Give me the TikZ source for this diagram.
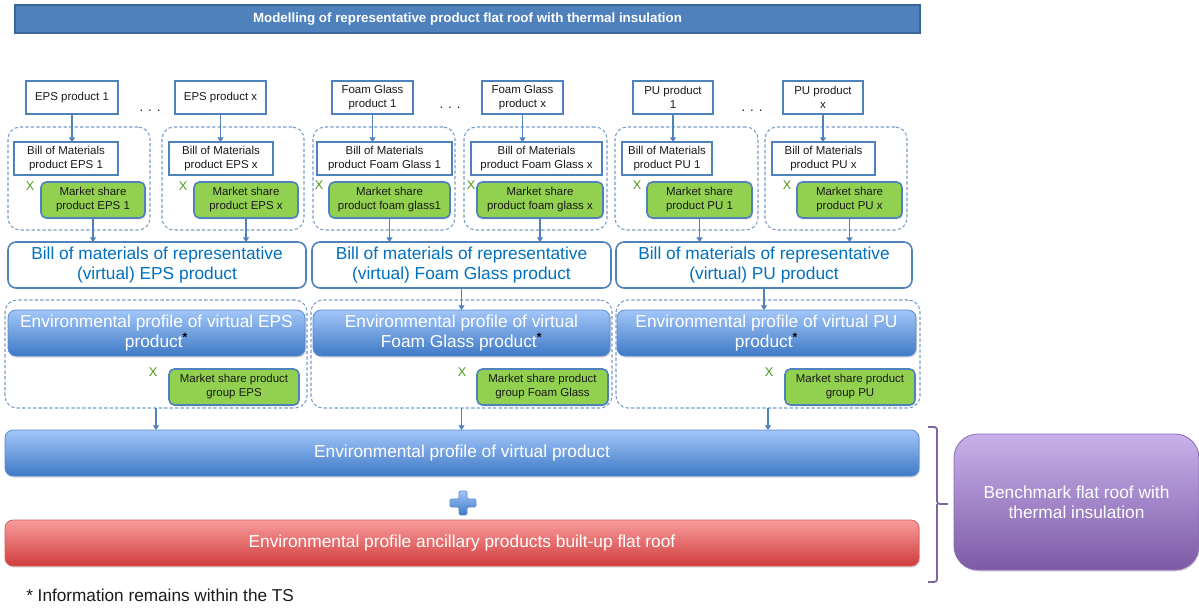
\documentclass[tikz,border=0pt]{standalone}
\usepackage{fontspec}
\setmainfont{Liberation Sans}
\usetikzlibrary{arrows.meta,shadows}
\definecolor{titleblue}{HTML}{4F81BD}
\definecolor{titledark}{HTML}{3A6598}
\definecolor{bord}{HTML}{4F81BD}
\definecolor{dashc}{HTML}{7A9CC8}
\definecolor{msgreen}{HTML}{92D050}
\definecolor{bomtext}{HTML}{0070C0}
\definecolor{envtop}{HTML}{A2C6F8}
\definecolor{envbot}{HTML}{3F79C6}
\definecolor{envbord}{HTML}{5B8BD0}
\definecolor{redtop}{HTML}{F99C9C}
\definecolor{redbot}{HTML}{CF3C3C}
\definecolor{redbord}{HTML}{D06060}
\definecolor{purtop}{HTML}{C8B1EA}
\definecolor{purbot}{HTML}{7D5AA6}
\definecolor{purbord}{HTML}{8A6AB5}
\definecolor{brack}{HTML}{8064A2}
\definecolor{xgreen}{HTML}{4F9A1A}
\definecolor{txt}{HTML}{1A1A1A}
\newcommand\fs{\fontsize{8.6}{10.5}\selectfont}
\newcommand\fl{\fontsize{13}{15}\selectfont}
\newcommand\bx[7]{\node[#2, minimum width={(#5-#3)*0.75pt}, minimum height={(#6-#4)*0.75pt}] (#1) at ({(#3+#5)/2},{(#4+#6)/2}) {#7};}
\newcommand\myast{\smash{\textsuperscript{\textcolor{black}{\bfseries *}}}}
\tikzset{
  base/.style={inner sep=0pt, outer sep=0pt, align=center},
  titlebox/.style={base, fill=titleblue, draw=titledark, line width=1pt, text=white, font=\bfseries\fontsize{10}{12}\selectfont},
  prod/.style={base, fill=white, draw=bord, line width=1.2pt, text=txt, font=\fs},
  grp/.style={base, draw=dashc, line width=0.8pt, dash pattern=on 2.5pt off 1.6pt, rounded corners=9pt},
  ms/.style={base, fill=msgreen, draw=bord, line width=1.2pt, rounded corners=4pt, text=txt, font=\fs,
     drop shadow={opacity=0.25, shadow xshift=0.8pt, shadow yshift=-1pt}},
  bigbom/.style={base, fill=white, draw=bord, line width=1.2pt, rounded corners=6pt, text=bomtext, font=\fl},
  env/.style={base, top color=envtop, bottom color=envbot, draw=envbord, line width=0.6pt, rounded corners=6pt, text=white, font=\fl,
     drop shadow={opacity=0.3, shadow xshift=0.8pt, shadow yshift=-1.2pt}},
  redbox/.style={base, top color=redtop, bottom color=redbot, draw=redbord, line width=0.6pt, rounded corners=6pt, text=white, font=\fl,
     drop shadow={opacity=0.3, shadow xshift=0.8pt, shadow yshift=-1.2pt}},
  purbox/.style={base, top color=purtop, bottom color=purbot, draw=purbord, line width=0.6pt, rounded corners=18pt, text=white, font=\fl,
     drop shadow={opacity=0.3, shadow xshift=0.8pt, shadow yshift=-1.2pt}},
  xmark/.style={inner sep=0pt, text=xgreen, font=\fontsize{9.5}{10}\selectfont},
  dots/.style={inner sep=0pt, font=\fontsize{10}{10}\selectfont, text=txt},
  arr/.style={draw=bord, line width=1.1pt, -{Triangle[length=3.5pt,width=4.5pt]}},
}
\begin{document}
\begin{tikzpicture}[x=0.75pt,y=-0.75pt]
\useasboundingbox (0,0) rectangle (1199,607);
% title
\bx{title}{titlebox}{15}{5}{920}{33}{Modelling of representative product flat roof with thermal insulation}
% groups
\bx{g1}{grp}{8}{127}{150}{230}{}
\bx{g2}{grp}{162}{127}{304}{230}{}
\bx{g3}{grp}{313}{127}{455}{230}{}
\bx{g4}{grp}{464}{127}{607}{230}{}
\bx{g5}{grp}{615}{127}{758}{230}{}
\bx{g6}{grp}{765}{127}{907}{230}{}
% products
\bx{p1}{prod}{26}{81}{118}{114}{EPS product 1}
\bx{p2}{prod}{175}{81}{266}{114}{EPS product x}
\bx{p3}{prod}{332}{81}{413}{114}{Foam Glass\\product 1}
\bx{p4}{prod}{482}{81}{563}{114}{Foam Glass\\product x}
\bx{p5}{prod}{633}{81}{713}{114}{PU product\\1}
\bx{p6}{prod}{783}{81}{863}{114}{PU product\\x}
\node[dots] (d1) at (150,111) {. . .};
\node[dots] (d2) at (450,108) {. . .};
\node[dots] (d3) at (752,111) {. . .};
% bills of materials
\bx{b1}{prod}{14}{142}{118}{175}{Bill of Materials\\product EPS 1}
\bx{b2}{prod}{169}{142}{273}{175}{Bill of Materials\\product EPS x}
\bx{b3}{prod}{317}{142}{452}{175}{Bill of Materials\\product Foam Glass 1}
\bx{b4}{prod}{471}{142}{602}{175}{Bill of Materials\\product Foam Glass x}
\bx{b5}{prod}{622}{142}{712}{175}{Bill of Materials\\product PU 1}
\bx{b6}{prod}{772}{142}{875}{175}{Bill of Materials\\product PU x}
% market shares
\bx{m1}{ms}{41}{182}{145}{218}{Market share\\product EPS 1}
\bx{m2}{ms}{194}{182}{298}{218}{Market share\\product EPS x}
\bx{m3}{ms}{329}{182}{450}{218}{Market share\\product foam glass1}
\bx{m4}{ms}{477}{182}{603}{218}{Market share\\product foam glass x}
\bx{m5}{ms}{647}{182}{752}{218}{Market share\\product PU 1}
\bx{m6}{ms}{797}{182}{902}{218}{Market share\\product PU x}
\node[xmark] (x1) at (30,186) {X};
\node[xmark] (x2) at (183,186) {X};
\node[xmark] (x3) at (319,185) {X};
\node[xmark] (x4) at (471,185) {X};
\node[xmark] (x5) at (637,185) {X};
\node[xmark] (x6) at (787,185) {X};
% representative BoM
\bx{be}{bigbom}{8}{242}{306}{288}{Bill of materials of representative\\(virtual) EPS product}
\bx{bf}{bigbom}{312}{242}{611}{288}{Bill of materials of representative\\(virtual) Foam Glass product}
\bx{bp}{bigbom}{616}{242}{912}{288}{Bill of materials of representative\\(virtual) PU product}
% environmental profile groups
\bx{ge}{grp}{5}{300}{307}{408}{}
\bx{gf}{grp}{311}{300}{612}{408}{}
\bx{gp}{grp}{616}{300}{920}{408}{}
\bx{ee}{env}{8}{310}{305}{356}{Environmental profile of virtual EPS\\product\myast}
\bx{ef}{env}{313}{310}{610}{356}{Environmental profile of virtual\\Foam Glass product\myast}
\bx{ep}{env}{617}{310}{916}{356}{Environmental profile of virtual PU\\product\myast}
\bx{me}{ms}{169}{369}{299}{405}{Market share product\\group EPS}
\bx{mf}{ms}{477}{369}{608}{405}{Market share product\\group Foam Glass}
\bx{mp}{ms}{785}{369}{915}{405}{Market share product\\group PU}
\node[xmark] (xe) at (153,372) {X};
\node[xmark] (xf) at (462,372) {X};
\node[xmark] (xp) at (769,372) {X};
% virtual product and ancillary
\bx{vp}{env}{5}{430}{919}{476}{Environmental profile of virtual product}
\bx{rb}{redbox}{5}{520}{919}{566}{Environmental profile ancillary products built-up flat roof}
\bx{bm}{purbox}{954}{434}{1199}{570}{Benchmark flat roof with\\thermal insulation}
% plus
\shade[top color=envtop, bottom color=envbot, draw=envbord, line width=0.5pt, rounded corners=1pt]
  (459,491) -- (467,491) -- (467,499) -- (476,499) -- (476,507) -- (467,507) -- (467,515)
  -- (459,515) -- (459,507) -- (450,507) -- (450,499) -- (459,499) -- cycle;
% bracket
\coordinate (k1) at (928,427);
\coordinate (k2) at (928,582);
\coordinate (kt) at (948,504);
\draw[brack, line width=1.3pt, rounded corners=2pt] (k1) -- (937,427) -- (937,504) -- (kt);
\draw[brack, line width=1.3pt, rounded corners=2pt] (k2) -- (937,582) -- (937,504);
% footnote
\node[anchor=west, inner sep=0pt, font=\fontsize{12.9}{14}\selectfont, text=txt] (fn) at (26,595) {* Information remains within the TS};
% arrows
\foreach \p/\b in {p1/b1,p2/b2,p3/b3,p4/b4,p5/b5,p6/b6}
  \draw[arr] (\p.south) -- (\p.south |- \b.north);
\foreach \m/\t in {m1/be,m2/be,m3/bf,m4/bf,m5/bp,m6/bp}
  \draw[arr] (\m.south) -- (\m.south |- \t.north);
\draw[arr] (bf.south) -- (bf.south |- ef.north);
\draw[arr] (bp.south) -- (bp.south |- ep.north);
\foreach \g in {ge,gf,gp}
  \draw[arr] (\g.south) -- (\g.south |- vp.north);
\end{tikzpicture}
\end{document}
